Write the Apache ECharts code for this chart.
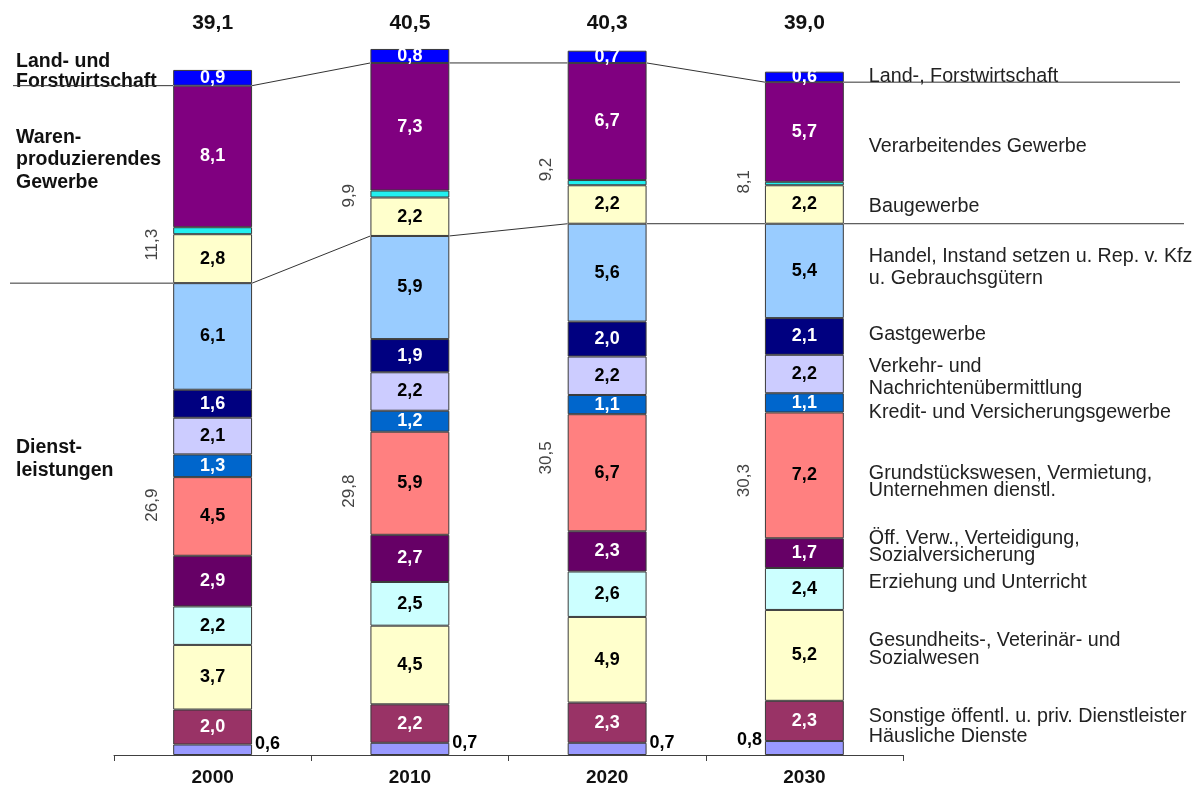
<!DOCTYPE html>
<html>
<head>
<meta charset="utf-8">
<title>Erwerbstätige nach Wirtschaftsbereichen</title>
<script src="https://cdn.jsdelivr.net/npm/echarts@6/dist/echarts.min.js"></script>
<style>
  html, body { margin: 0; padding: 0; background: #fff; }
  #chart { width: 1196px; height: 789px; }
</style>
</head>
<body>
<div id="chart"></div>
<script>
const categories = ['2000', '2010', '2020', '2030'];

// Erwerbstätige in Mio., von unten nach oben gestapelt
const haeuslicheDienste = [0.6, 0.7, 0.7, 0.8];
const sonstigeDienstleister = [2.0, 2.2, 2.3, 2.3];
const gesundheitswesen = [3.7, 4.5, 4.9, 5.2];
const erziehung = [2.2, 2.5, 2.6, 2.4];
const oeffVerwaltung = [2.9, 2.7, 2.3, 1.7];
const grundstueckswesen = [4.5, 5.9, 6.7, 7.2];
const kreditgewerbe = [1.3, 1.2, 1.1, 1.1];
const verkehr = [2.1, 2.2, 2.2, 2.2];
const gastgewerbe = [1.6, 1.9, 2.0, 2.1];
const handel = [6.1, 5.9, 5.6, 5.4];
const baugewerbe = [2.8, 2.2, 2.2, 2.2];
const energieBergbau = [0.4, 0.4, 0.3, 0.2];
const verarbeitendesGewerbe = [8.1, 7.3, 6.7, 5.7];
const landForst = [0.9, 0.8, 0.7, 0.6];

// Summen
const totals = [39.1, 40.5, 40.3, 39.0];
const warenTotals = [11.3, 9.9, 9.2, 8.1];
const dienstTotals = [26.9, 29.8, 30.5, 30.3];

// wo die gedrehten Summen sitzen (in Achsenwerten)
const warenLabelAt = [29.2, 32.0, 33.5, 32.8];
const dienstLabelAt = [14.3, 15.1, 17.0, 15.7];

const FONT = '"Liberation Sans", Arial, sans-serif';
const yMax = 42;

// legend text next to the last bar: dy = px shift from segment centre
const sectors = [
  { name: 'Häusliche Dienste', data: haeuslicheDienste, color: '#9999FF', text: '#000', dy: -11 },
  { name: 'Sonstige öffentl. u. priv. Dienstleister', data: sonstigeDienstleister, color: '#993366', text: '#fff', dy: -4 },
  { name: 'Gesundheits-, Veterinär- und\nSozialwesen', data: gesundheitswesen, color: '#FFFFCC', text: '#000', dy: -6, lh: 18 },
  { name: 'Erziehung und Unterricht', data: erziehung, color: '#CCFFFF', text: '#000', dy: -6 },
  { name: 'Öff. Verw., Verteidigung,\nSozialversicherung', data: oeffVerwaltung, color: '#660066', text: '#fff', dy: -6, lh: 17 },
  { name: 'Grundstückswesen, Vermietung,\nUnternehmen dienstl.', data: grundstueckswesen, color: '#FF8080', text: '#000', dy: 7, lh: 17 },
  { name: 'Kredit- und Versicherungsgewerbe', data: kreditgewerbe, color: '#0066CC', text: '#fff', dy: 10 },
  { name: 'Verkehr- und\nNachrichtenübermittlung', data: verkehr, color: '#CCCCFF', text: '#000', dy: 4, lh: 22 },
  { name: 'Gastgewerbe', data: gastgewerbe, color: '#000080', text: '#fff', dy: -2 },
  { name: 'Handel, Instand setzen u. Rep. v. Kfz\nu. Gebrauchsgütern', data: handel, color: '#99CCFF', text: '#000', dy: -3, lh: 22 },
  { name: 'Baugewerbe', data: baugewerbe, color: '#FFFFCC', text: '#000', dy: 2 },
  { name: 'Energie, Bergbau', data: energieBergbau, color: '#22F0F0', text: null },
  { name: 'Verarbeitendes Gewerbe', data: verarbeitendesGewerbe, color: '#800080', text: '#fff', dy: 15 },
  { name: 'Land-, Forstwirtschaft', data: landForst, color: '#0000FF', text: '#fff', dy: 0 }
];

const nServices = 10;
const sumUpTo = (n, i) => sectors.slice(0, n).reduce((s, sec) => s + sec.data[i], 0);
const upperLevel = categories.map((c, i) => sumUpTo(sectors.length - 1, i));
const lowerLevel = categories.map((c, i) => sumUpTo(nServices, i));

const fmt = v => v.toFixed(1).replace('.', ',');

const chart = echarts.init(document.getElementById('chart'));

const barSeries = sectors.map((sec, k) => ({
  name: sec.name,
  type: 'bar',
  stack: 'total',
  barWidth: '40%',
  itemStyle: { color: sec.color, borderColor: '#3a3a3a', borderWidth: 1 },
  label: {
    show: sec.text !== null,
    position: 'inside',
    color: sec.text,
    fontFamily: FONT,
    fontWeight: 'bold',
    fontSize: 18,
    formatter: p => fmt(p.value)
  },
  data: sec.data.map((v, i) => {
    if (k !== 0) return v;
    // Häusliche Dienste: Wert neben dem Balken
    const last = i === sec.data.length - 1;
    return {
      value: v,
      label: {
        position: last ? 'left' : 'right',
        distance: 3,
        offset: [0, last ? -8 : -6],
        color: '#000'
      }
    };
  })
}));

function renderNotes(params, api) {
  const i = api.value(0);
  const last = categories.length - 1;
  const halfBar = api.size([1, 0])[0] * 0.2;
  const cx = api.coord([i, 0])[0];
  const left = cx - halfBar;
  const right = cx + halfBar;
  const yOf = (idx, v) => api.coord([idx, v])[1];
  const children = [];
  const line = (x1, y1, x2, y2) => ({
    type: 'line',
    shape: { x1, y1, x2, y2 },
    style: { stroke: '#333', lineWidth: 1 }
  });

  // Gesamtsumme oben
  children.push({
    type: 'text',
    style: {
      text: fmt(totals[i]), x: cx, y: yOf(i, yMax) + 2,
      align: 'center', verticalAlign: 'middle',
      fontFamily: FONT, fontWeight: 'bold', fontSize: 21, fill: '#111'
    }
  });

  // Verbindungslinien zwischen den Bereichen
  [upperLevel, lowerLevel].forEach((lv, k) => {
    if (i === 0) {
      children.push(line(13 - k * 3, yOf(0, lv[0]), left, yOf(0, lv[0])));
    } else {
      const prevRight = api.coord([i - 1, 0])[0] + halfBar;
      children.push(line(prevRight, yOf(i - 1, lv[i - 1]), left, yOf(i, lv[i])));
    }
    if (i === last) {
      children.push(line(right, yOf(i, lv[i]), api.getWidth() - 16 + k * 4, yOf(i, lv[i])));
    }
  });

  // gedrehte Bereichssummen
  [[warenTotals, warenLabelAt], [dienstTotals, dienstLabelAt]].forEach(([vals, at]) => {
    children.push({
      type: 'text',
      x: left - 21,
      y: yOf(i, at[i]),
      rotation: Math.PI / 2,
      style: {
        text: fmt(vals[i]), x: 0, y: 0,
        align: 'center', verticalAlign: 'middle',
        fontFamily: FONT, fontSize: 17, fill: '#444'
      }
    });
  });

  // Beschriftung rechts neben dem letzten Balken
  if (i === last) {
    let base = 0;
    sectors.forEach(sec => {
      const v = sec.data[i];
      if (sec.text !== null) {
        children.push({
          type: 'text',
          style: {
            text: sec.name, x: right + 25, y: yOf(i, base + v / 2) + sec.dy,
            align: 'left', verticalAlign: 'middle',
            fontFamily: FONT, fontSize: 19.7, lineHeight: sec.lh || 20, fill: '#222'
          }
        });
      }
      base += v;
    });
  }

  return { type: 'group', children };
}

const groupText = (text, top, lh) => ({
  type: 'text',
  left: 16,
  top,
  style: { text, fontFamily: FONT, fontWeight: 'bold', fontSize: 19.5, lineHeight: lh, fill: '#111' }
});

const option = {
  animation: false,
  backgroundColor: '#fff',
  grid: { left: 114, right: 293, top: 21, bottom: 34 },
  xAxis: {
    type: 'category',
    data: categories,
    axisLine: { lineStyle: { color: '#404040', width: 1 } },
    axisTick: { show: true, length: 6, lineStyle: { color: '#404040', width: 1 } },
    axisLabel: { color: '#111', fontFamily: FONT, fontWeight: 'bold', fontSize: 19, margin: 13 }
  },
  yAxis: { type: 'value', min: 0, max: yMax, show: false },
  graphic: [
    groupText('Land- und\nForstwirtschaft', 52, 20),
    groupText('Waren-\nproduzierendes\nGewerbe', 126, 22.5),
    groupText('Dienst-\nleistungen', 436, 23)
  ],
  series: [
    ...barSeries,
    {
      type: 'custom',
      name: 'notes',
      z: 5,
      clip: false,
      silent: true,
      renderItem: renderNotes,
      encode: { x: 0 },
      data: categories.map((c, i) => [i])
    }
  ]
};

chart.setOption(option);
window.addEventListener('resize', () => chart.resize());
</script>
</body>
</html>
